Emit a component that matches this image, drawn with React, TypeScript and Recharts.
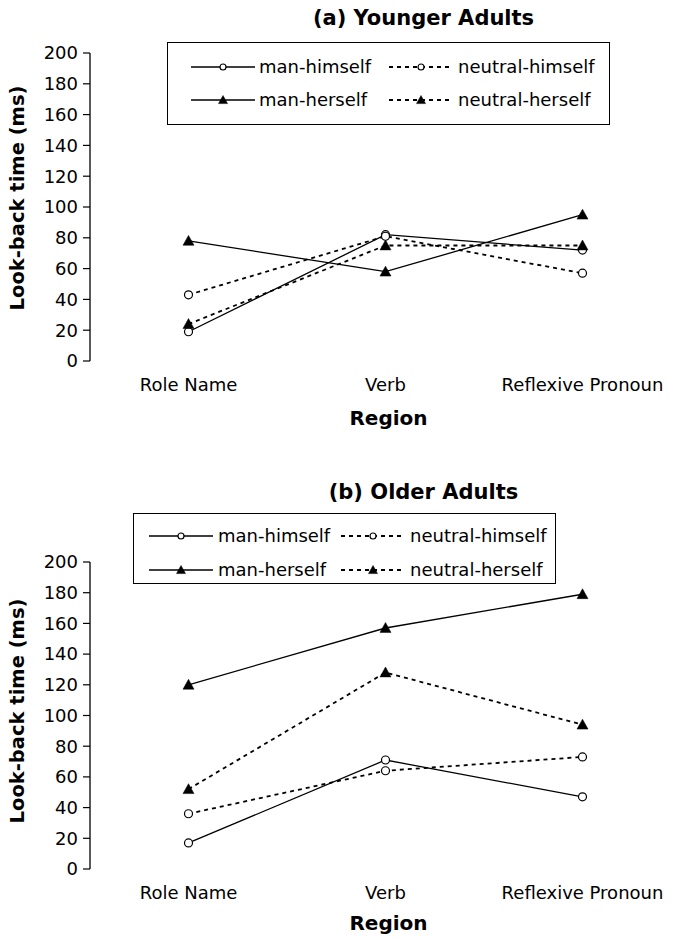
import { Line, LineChart, XAxis, YAxis } from 'recharts';

const FONT = '"DejaVu Sans", Verdana, sans-serif';

const regions = ['Role Name', 'Verb', 'Reflexive Pronoun'];
const yTicks = [0, 20, 40, 60, 80, 100, 120, 140, 160, 180, 200];
const regionEdges = [0, 1, 2, 3];

// (a) younger adults
const youngManHimself = [19, 82, 72];
const youngNeutralHimself = [43, 81, 57];
const youngManHerself = [78, 58, 95];
const youngNeutralHerself = [24, 75, 75];

// (b) older adults
const oldManHimself = [17, 71, 47];
const oldNeutralHimself = [36, 64, 73];
const oldManHerself = [120, 157, 179];
const oldNeutralHerself = [52, 128, 94];

const seriesKeys = ['manHimself', 'neutralHimself', 'manHerself', 'neutralHerself'];
const seriesNames = ['man-himself', 'neutral-himself', 'man-herself', 'neutral-herself'];
const seriesDashed = [false, true, false, true];
const seriesMarker = ['circle', 'circle', 'triangle', 'triangle'];

function buildRows(manHim: number[], neuHim: number[], manHer: number[], neuHer: number[]) {
  return regions.map((region, i) => ({
    region,
    manHimself: manHim[i],
    neutralHimself: neuHim[i],
    manHerself: manHer[i],
    neutralHerself: neuHer[i],
  }));
}

const youngRows = buildRows(youngManHimself, youngNeutralHimself, youngManHerself, youngNeutralHerself);
const oldRows = buildRows(oldManHimself, oldNeutralHimself, oldManHerself, oldNeutralHerself);

function Marker({ kind, cx, cy, small }: { kind: string; cx: number; cy: number; small?: boolean }) {
  if (kind === 'circle') {
    return <circle cx={cx} cy={cy} r={small ? 3 : 4} fill="#fff" stroke="#000" strokeWidth={1.2} />;
  }
  const w = small ? 4.5 : 5.5;
  const h = small ? 4.5 : 5.5;
  return (
    <polygon
      points={`${cx},${cy - h} ${cx - w},${cy + h * 0.8} ${cx + w},${cy + h * 0.8}`}
      fill="#000"
      stroke="#000"
      strokeWidth={0.5}
    />
  );
}

const makeDot = (kind: string) => (props: any) => (
  <Marker key={`${props.dataKey}-${props.index}`} kind={kind} cx={props.cx} cy={props.cy} />
);

interface LegendLayout {
  left: number;
  top: number;
  width: number;
  height: number;
  lineX: number[];
  textX: number[];
  rowY: number[];
}

function LegendBox({ l }: { l: LegendLayout }) {
  return (
    <div
      style={{
        position: 'absolute',
        left: l.left,
        top: l.top,
        width: l.width,
        height: l.height,
        border: '1.3px solid #000',
        boxSizing: 'border-box',
        background: '#fff',
      }}
    >
      {seriesKeys.map((key, i) => {
        const col = i % 2;
        const row = Math.floor(i / 2);
        return (
          <div key={key}>
            <svg
              width={64}
              height={16}
              style={{ position: 'absolute', left: l.lineX[col], top: l.rowY[row] - 8 }}
            >
              <line
                x1={0}
                y1={8}
                x2={64}
                y2={8}
                stroke="#000"
                strokeWidth={seriesDashed[i] ? 1.8 : 1.3}
                strokeDasharray={seriesDashed[i] ? '4 4' : undefined}
              />
              <Marker kind={seriesMarker[i]} cx={32} cy={8} small />
            </svg>
            <div
              style={{
                position: 'absolute',
                left: l.textX[col],
                top: l.rowY[row],
                transform: 'translateY(-50%)',
                fontFamily: FONT,
                fontSize: 18,
                lineHeight: 1,
                whiteSpace: 'nowrap',
                color: '#000',
              }}
            >
              {seriesNames[i]}
            </div>
          </div>
        );
      })}
    </div>
  );
}

interface PanelProps {
  title: string;
  rows: any[];
  top: number;
  height: number;
  plotTop: number;
  plotHeight: number;
  titleY: number;
  regionOffset: number;
  yLabelDy: number;
  legend: LegendLayout;
}

function Panel({ title, rows, top, height, plotTop, plotHeight, titleY, regionOffset, yLabelDy, legend }: PanelProps) {
  const axisHeight = height - plotTop - plotHeight;
  return (
    <div style={{ position: 'absolute', left: 0, top, width: 681, height }}>
      <LineChart width={681} height={height} data={rows} margin={{ top: plotTop, right: 0, left: 0, bottom: 0 }}>
        <XAxis
          xAxisId="edges"
          type="number"
          domain={[0, 3]}
          ticks={regionEdges}
          interval={0}
          height={0}
          tickSize={6}
          tickFormatter={() => ''}
          axisLine={{ stroke: '#000', strokeWidth: 1.3 }}
          tickLine={{ stroke: '#000', strokeWidth: 1.2 }}
        />
        <XAxis
          xAxisId="cat"
          dataKey="region"
          height={axisHeight}
          padding={{ left: 98.5, right: 98.5 }}
          axisLine={false}
          tickLine={false}
          tickSize={6}
          tickMargin={11}
          interval={0}
          tick={{ fill: '#000', fontSize: 18, fontFamily: FONT }}
          label={{
            value: 'Region',
            position: 'insideBottom',
            offset: regionOffset,
            dx: 3,
            fill: '#000',
            fontSize: 20,
            fontWeight: 'bold',
            fontFamily: FONT,
          }}
        />
        <YAxis
          width={90}
          domain={[0, 200]}
          ticks={yTicks}
          interval={0}
          tickSize={7}
          tickMargin={5}
          axisLine={{ stroke: '#000', strokeWidth: 1.3 }}
          tickLine={{ stroke: '#000', strokeWidth: 1.2 }}
          tick={{ fill: '#000', fontSize: 18, fontFamily: FONT }}
          label={{
            value: 'Look-back time (ms)',
            angle: -90,
            position: 'center',
            dx: -27.5,
            dy: yLabelDy,
            fill: '#000',
            fontSize: 19.5,
            fontWeight: 'bold',
            fontFamily: FONT,
          }}
        />
        {seriesKeys.map((key, i) => (
          <Line
            key={key}
            xAxisId="cat"
            dataKey={key}
            name={seriesNames[i]}
            stroke="#000"
            strokeWidth={seriesDashed[i] ? 1.8 : 1.3}
            strokeDasharray={seriesDashed[i] ? '4 4' : undefined}
            dot={makeDot(seriesMarker[i])}
            activeDot={false}
            isAnimationActive={false}
          />
        ))}
      </LineChart>
      <div
        style={{
          position: 'absolute',
          left: 423.5,
          top: titleY,
          transform: 'translate(-50%, -50%)',
          fontFamily: FONT,
          fontSize: 21,
          fontWeight: 'bold',
          lineHeight: 1,
          whiteSpace: 'nowrap',
          color: '#000',
        }}
      >
        {title}
      </div>
      <LegendBox l={legend} />
    </div>
  );
}

export default function App() {
  return (
    <div style={{ position: 'absolute', left: 0, top: 0, width: 681, height: 938, background: '#fff' }}>
      <Panel
        title="(a) Younger Adults"
        rows={youngRows}
        top={0}
        height={450}
        plotTop={53}
        plotHeight={308}
        titleY={18}
        regionOffset={25.5}
        yLabelDy={-9}
        legend={{ left: 167, top: 42, width: 443, height: 83, lineX: [23, 221], textX: [91, 290], rowY: [24, 57] }}
      />
      <Panel
        title="(b) Older Adults"
        rows={oldRows}
        top={470}
        height={468}
        plotTop={92}
        plotHeight={307}
        titleY={22}
        regionOffset={7.7}
        yLabelDy={-4.5}
        legend={{ left: 133, top: 43, width: 423, height: 71, lineX: [15, 207], textX: [84, 276], rowY: [22, 56] }}
      />
    </div>
  );
}
